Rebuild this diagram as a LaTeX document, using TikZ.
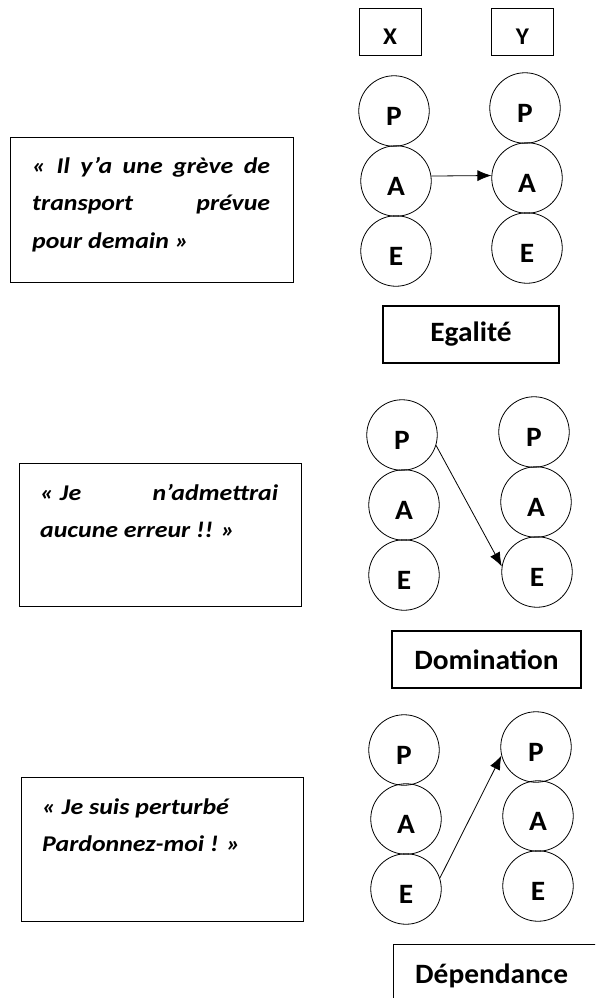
\documentclass[tikz,border=0pt]{standalone}
\usepackage{fontspec}
\setmainfont{Carlito}
\newfontfamily\quotefont[FakeStretch=1.15]{Carlito}
\newfontfamily\labelfont[FakeStretch=1.05]{Carlito}
\usetikzlibrary{arrows.meta}
% stack of quote lines; the first line carries the baseline
\newcommand{\quotelines}[1]{\vtop{\quotefont\fontsize{22.5}{37.5}\selectfont\bfseries\itshape #1}}
\newcommand{\qline}[1]{\hbox{#1}}
\newcommand{\qfull}[1]{\hbox to 238pt{#1}}
\begin{document}
\begin{tikzpicture}[x=1pt,y=-1pt,
  quotebox/.style={draw, line width=1.1pt, anchor=north west, inner sep=0pt},
  quotetext/.style={anchor=base west, inner sep=0pt},
  role/.style={circle, draw, line width=0.8pt, minimum size=70.5pt, inner sep=0pt,
    text height=28pt, font=\labelfont\fontsize{28}{28}\selectfont\bfseries},
  tag/.style={draw, line width=1pt, inner sep=0pt, minimum width=62pt, minimum height=47pt,
    text height=24.5pt, font=\labelfont\fontsize{24}{24}\selectfont\bfseries},
  relation/.style={draw, line width=1.1pt, inner sep=0pt, minimum height=57pt,
    font=\labelfont\fontsize{28}{28}\selectfont\bfseries},
  link/.style={line width=0.8pt, -{Latex[length=14pt,width=11pt]}}
]
\useasboundingbox (0,0) rectangle (595,998);
\clip (0,0) rectangle (595,998);

% ---- speakers
\node[tag] (x) at (390,32.5) {X};
\node[tag] (y) at (522.5,32.5) {Y};

% ---- first exchange: equality
\node[quotebox, minimum width=283pt, minimum height=145pt] (b1) at (10,137) {};
\node[quotetext] (t1) at (32,173)
  {\quotelines{\qfull{« Il y’a une grève de}
               \qfull{transport \hfill prévue}
               \qline{pour demain »}}};

\node[role] (p1L) at (394,111) {P};
\node[role] (a1L) at (396,181) {A};
\node[role] (e1L) at (396,251) {E};
\node[role] (p1R) at (525,108) {P};
\node[role] (a1R) at (527,178) {A};
\node[role] (e1R) at (527,248) {E};
\draw[link] (a1L.8) -- (a1R.176);

\node[relation, minimum width=176pt] (r1) at (471,334.5) {Egalité};

% ---- second exchange: domination
\node[quotebox, minimum width=282pt, minimum height=143pt] (b2) at (19,463) {};
\node[quotetext] (t2) at (40,500)
  {\quotelines{\qfull{« Je \hfill n’admettrai}
               \qline{aucune erreur !! »}}};

\node[role] (p2L) at (402,435) {P};
\node[role] (a2L) at (404,505) {A};
\node[role] (e2L) at (404,575) {E};
\node[role] (p2R) at (534,432) {P};
\node[role] (a2R) at (536,502) {A};
\node[role] (e2R) at (537,572) {E};
\draw[link] (p2L.-17) -- (e2R.171);

\node[relation, minimum width=189pt] (r2) at (486.5,659.5) {Domination};

% ---- third exchange: dependence
\node[quotebox, minimum width=282pt, minimum height=144pt] (b3) at (21,777) {};
\node[quotetext] (t3) at (42,814)
  {\quotelines{\qline{« Je suis perturbé}
               \qline{Pardonnez-moi ! »}}};

\node[role] (p3L) at (404,750) {P};
\node[role] (a3L) at (406,819) {A};
\node[role] (e3L) at (406,889) {E};
\node[role] (p3R) at (536,747) {P};
\node[role] (a3R) at (538,816) {A};
\node[role] (e3R) at (538,886) {E};
\draw[link] (e3L.18) -- (p3R.194);

\node[quotebox, minimum width=230pt, minimum height=80pt] (r3) at (393,944) {};
\node[anchor=base west, inner sep=0pt, font=\labelfont\fontsize{28}{28}\selectfont\bfseries]
  (r3t) at (415,983) {Dépendance};
\end{tikzpicture}
\end{document}
